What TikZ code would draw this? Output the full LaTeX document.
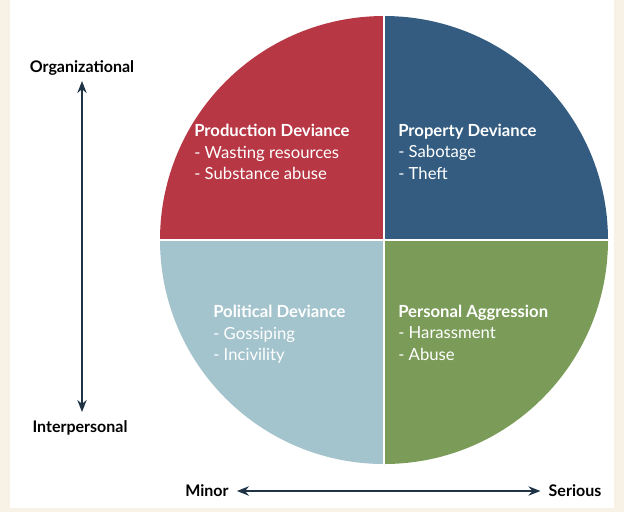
\documentclass[tikz,border=0pt]{standalone}
\usepackage{fontspec}
\setmainfont{Lato}
\usetikzlibrary{arrows.meta}
\definecolor{cream}{HTML}{F8F1E6}
\definecolor{qred}{HTML}{B73744}
\definecolor{qblue}{HTML}{335C80}
\definecolor{qlight}{HTML}{A4C4CD}
\definecolor{qgreen}{HTML}{7B9C59}
\definecolor{navy}{HTML}{1E3446}
\begin{document}
\begin{tikzpicture}[x=0.75pt,y=-0.75pt,
  lab/.style={text=white,font=\fontsize{12.5}{16}\selectfont,anchor=north west,align=left,inner sep=0pt},
  axlab/.style={text=black,font=\fontsize{12}{14}\selectfont\bfseries,inner sep=0pt},
  ax/.style={navy,line width=1.3pt,{Stealth[length=9pt,width=7pt]}-{Stealth[length=9pt,width=7pt]}}]
\fill[cream] (0,0) rectangle (624,512);
\fill[white] (10,0) rectangle (614,508);
\useasboundingbox (0,0) rectangle (624,512);
\coordinate (c) at (384,240);
\begin{scope}
\clip (c) circle[radius=168pt];
\fill[qred] (150,0) rectangle (384,240);
\fill[qblue] (384,0) rectangle (620,240);
\fill[qlight] (150,240) rectangle (384,480);
\fill[qgreen] (384,240) rectangle (620,480);
\draw[white,line width=1.5pt] (384,0) -- (384,480) (150,240) -- (620,240);
\end{scope}
\node[lab] (pd) at (194,124) {\textbf{Production Deviance}\\- Wasting resources\\- Substance abuse};
\node[lab] (prd) at (398,124) {\textbf{Property Deviance}\\- Sabotage\\- Theft};
\node[lab] (pol) at (213,305) {\textbf{Political Deviance}\\- Gossiping\\- Incivility};
\node[lab] (pa) at (398,305) {\textbf{Personal Aggression}\\- Harassment\\- Abuse};
\node[axlab] (org) at (82,68) {Organizational};
\node[axlab] (int) at (80,428) {Interpersonal};
\node[axlab] (min) at (207,491) {Minor};
\node[axlab] (ser) at (575,491) {Serious};
\draw[ax] (82,81) -- (82,412);
\draw[ax] ([xshift=6]min.east) -- ([xshift=-6]ser.west);
\end{tikzpicture}
\end{document}
